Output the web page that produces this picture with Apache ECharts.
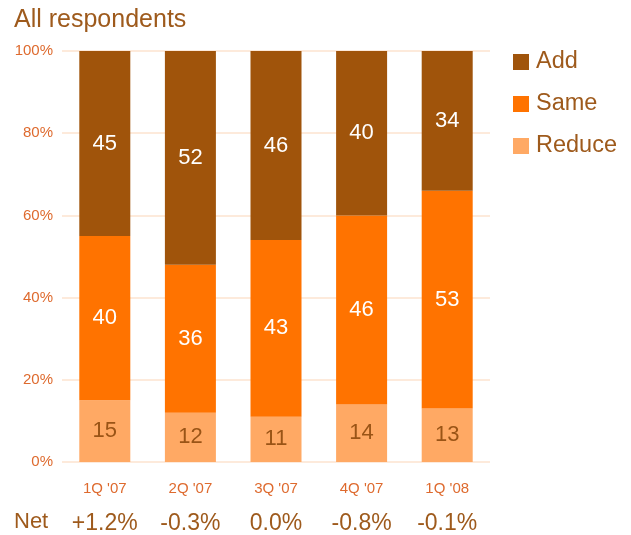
<!DOCTYPE html>
<html>
<head>
<meta charset="utf-8">
<script src="https://cdn.jsdelivr.net/npm/echarts@6/dist/echarts.min.js"></script>
<style>
  html, body { margin: 0; padding: 0; background: #fff; }
  #chart { width: 631px; height: 535px; }
</style>
</head>
<body>
<div id="chart"></div>
<script>
// Quarterly survey: share of respondents planning to add, keep or reduce
const quarters = ["1Q '07", "2Q '07", "3Q '07", "4Q '07", "1Q '08"];
const reduceValues = [15, 12, 11, 14, 13];
const sameValues = [40, 36, 43, 46, 53];
const addValues = [45, 52, 46, 40, 34];
const netLabels = ['+1.2%', '-0.3%', '0.0%', '-0.8%', '-0.1%'];
const yTicks = [0, 20, 40, 60, 80, 100];

const FONT = '"Liberation Sans", Arial, sans-serif';
const BROWN_TEXT = '#9E5A1C';
const AXIS_TEXT = '#DE6A2E';
const GRID = '#FDE3CF';
const COLORS = { add: '#A0540B', same: '#FF7300', reduce: '#FFA964' };

const chart = echarts.init(document.getElementById('chart'), null, { renderer: 'canvas' });

function barSeries(name, data, color, labelColor) {
  return {
    name: name,
    type: 'bar',
    stack: 'total',
    data: data,
    barWidth: 51,
    itemStyle: { color: color },
    label: {
      show: true,
      position: 'inside',
      color: labelColor,
      fontFamily: FONT,
      fontSize: 22
    },
    emphasis: { disabled: true }
  };
}

chart.setOption({
  animation: false,
  textStyle: { fontFamily: FONT },
  title: {
    text: 'All respondents',
    left: 9,
    top: 3,
    textStyle: { color: BROWN_TEXT, fontSize: 25, fontWeight: 'normal', fontFamily: FONT }
  },
  legend: {
    orient: 'vertical',
    left: 508,
    top: 45,
    itemWidth: 16,
    itemHeight: 16,
    itemGap: 18,
    icon: 'rect',
    data: ['Add', 'Same', 'Reduce'],
    textStyle: { color: BROWN_TEXT, fontSize: 23.5, fontFamily: FONT, padding: [0, 0, 0, 2] }
  },
  grid: { left: 62, right: 141, top: 51, bottom: 73, containLabel: false },
  xAxis: [
    {
      type: 'category',
      data: quarters,
      gridIndex: 0,
      position: 'bottom',
      axisLine: { show: false },
      axisTick: { show: false },
      axisLabel: { interval: 0, color: AXIS_TEXT, fontSize: 15, margin: 19, fontFamily: FONT }
    },
    {
      type: 'category',
      data: netLabels,
      gridIndex: 0,
      position: 'bottom',
      offset: 32,
      axisLine: { show: false },
      axisTick: { show: false },
      axisLabel: { interval: 0, color: BROWN_TEXT, fontSize: 23, margin: 18, fontFamily: FONT }
    }
  ],
  yAxis: {
    type: 'value',
    min: yTicks[0],
    max: yTicks[yTicks.length - 1],
    interval: 20,
    axisLine: { show: false },
    axisTick: { show: false },
    axisLabel: { color: AXIS_TEXT, fontSize: 15, margin: 9, formatter: '{value}%', fontFamily: FONT },
    splitLine: { show: true, lineStyle: { color: GRID, width: 1.5 } }
  },
  graphic: [
    {
      type: 'text',
      left: 14,
      top: 511,
      style: { text: 'Net', fill: BROWN_TEXT, font: '22px ' + FONT }
    }
  ],
  series: [
    barSeries('Reduce', reduceValues, COLORS.reduce, '#9A5416'),
    barSeries('Same', sameValues, COLORS.same, '#FFFFFF'),
    barSeries('Add', addValues, COLORS.add, '#FFFFFF')
  ]
});
</script>
</body>
</html>
